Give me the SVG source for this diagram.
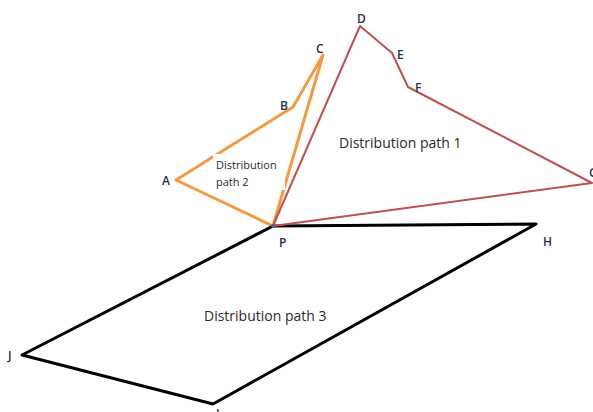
<svg xmlns="http://www.w3.org/2000/svg" width="593" height="412" viewBox="0 0 593 412">
<style>
.o{fill:none;stroke:#F59A42;stroke-width:3;stroke-linejoin:round;stroke-linecap:round}
.r{fill:none;stroke:#C0504D;stroke-width:2;stroke-linejoin:round}
.k{fill:none;stroke:#000;stroke-width:3;stroke-linejoin:round}
.lb{font-family:"Open Sans","Liberation Sans",Arial,sans-serif;font-size:12px;font-weight:600;fill:#1F3050}
.t{font-family:"Open Sans","Liberation Sans",sans-serif;fill:#2a2a2a}
</style>
<rect width="593" height="412" fill="#fff"/>
<g id="connectors">
<polyline class="o" points="273,226 176,180 293,107 323,55 273,226"/>
<rect x="213" y="154" width="72" height="36" fill="#fff"/>
<polyline class="k" points="273,226 536,224 213,404 22,355 273,226"/>
<polyline class="r" points="273,226 360,26 392,53 408,87 592,183 273,226"/>
<circle cx="273" cy="226" r="2" fill="#3A66A8"/>
</g>
<g id="node-A"><text class="lb" x="162" y="185">A</text></g>
<g id="node-B"><text class="lb" x="280" y="110">B</text></g>
<g id="node-C"><text class="lb" x="316" y="53">C</text></g>
<g id="node-D"><text class="lb" x="357" y="23">D</text></g>
<g id="node-E"><text class="lb" x="397" y="59">E</text></g>
<g id="node-F"><text class="lb" x="415" y="92">F</text></g>
<g id="node-G"><text class="lb" x="589" y="177">G</text></g>
<g id="node-P"><text class="lb" x="279" y="247">P</text></g>
<g id="node-H"><text class="lb" x="543" y="246">H</text></g>
<g id="node-J"><text class="lb" x="8" y="360">J</text></g>
<g id="node-I"><text class="lb" x="216" y="418">I</text></g>
<g id="label-path1"><text class="t" x="339" y="148" font-size="14">Distribution path 1</text></g>
<g id="label-path2"><text class="t" x="216" y="169" font-size="11">Distribution</text><text class="t" x="216" y="186" font-size="11">path 2</text></g>
<g id="label-path3"><text class="t" x="204" y="321" font-size="14">Distribution path 3</text></g>
</svg>
